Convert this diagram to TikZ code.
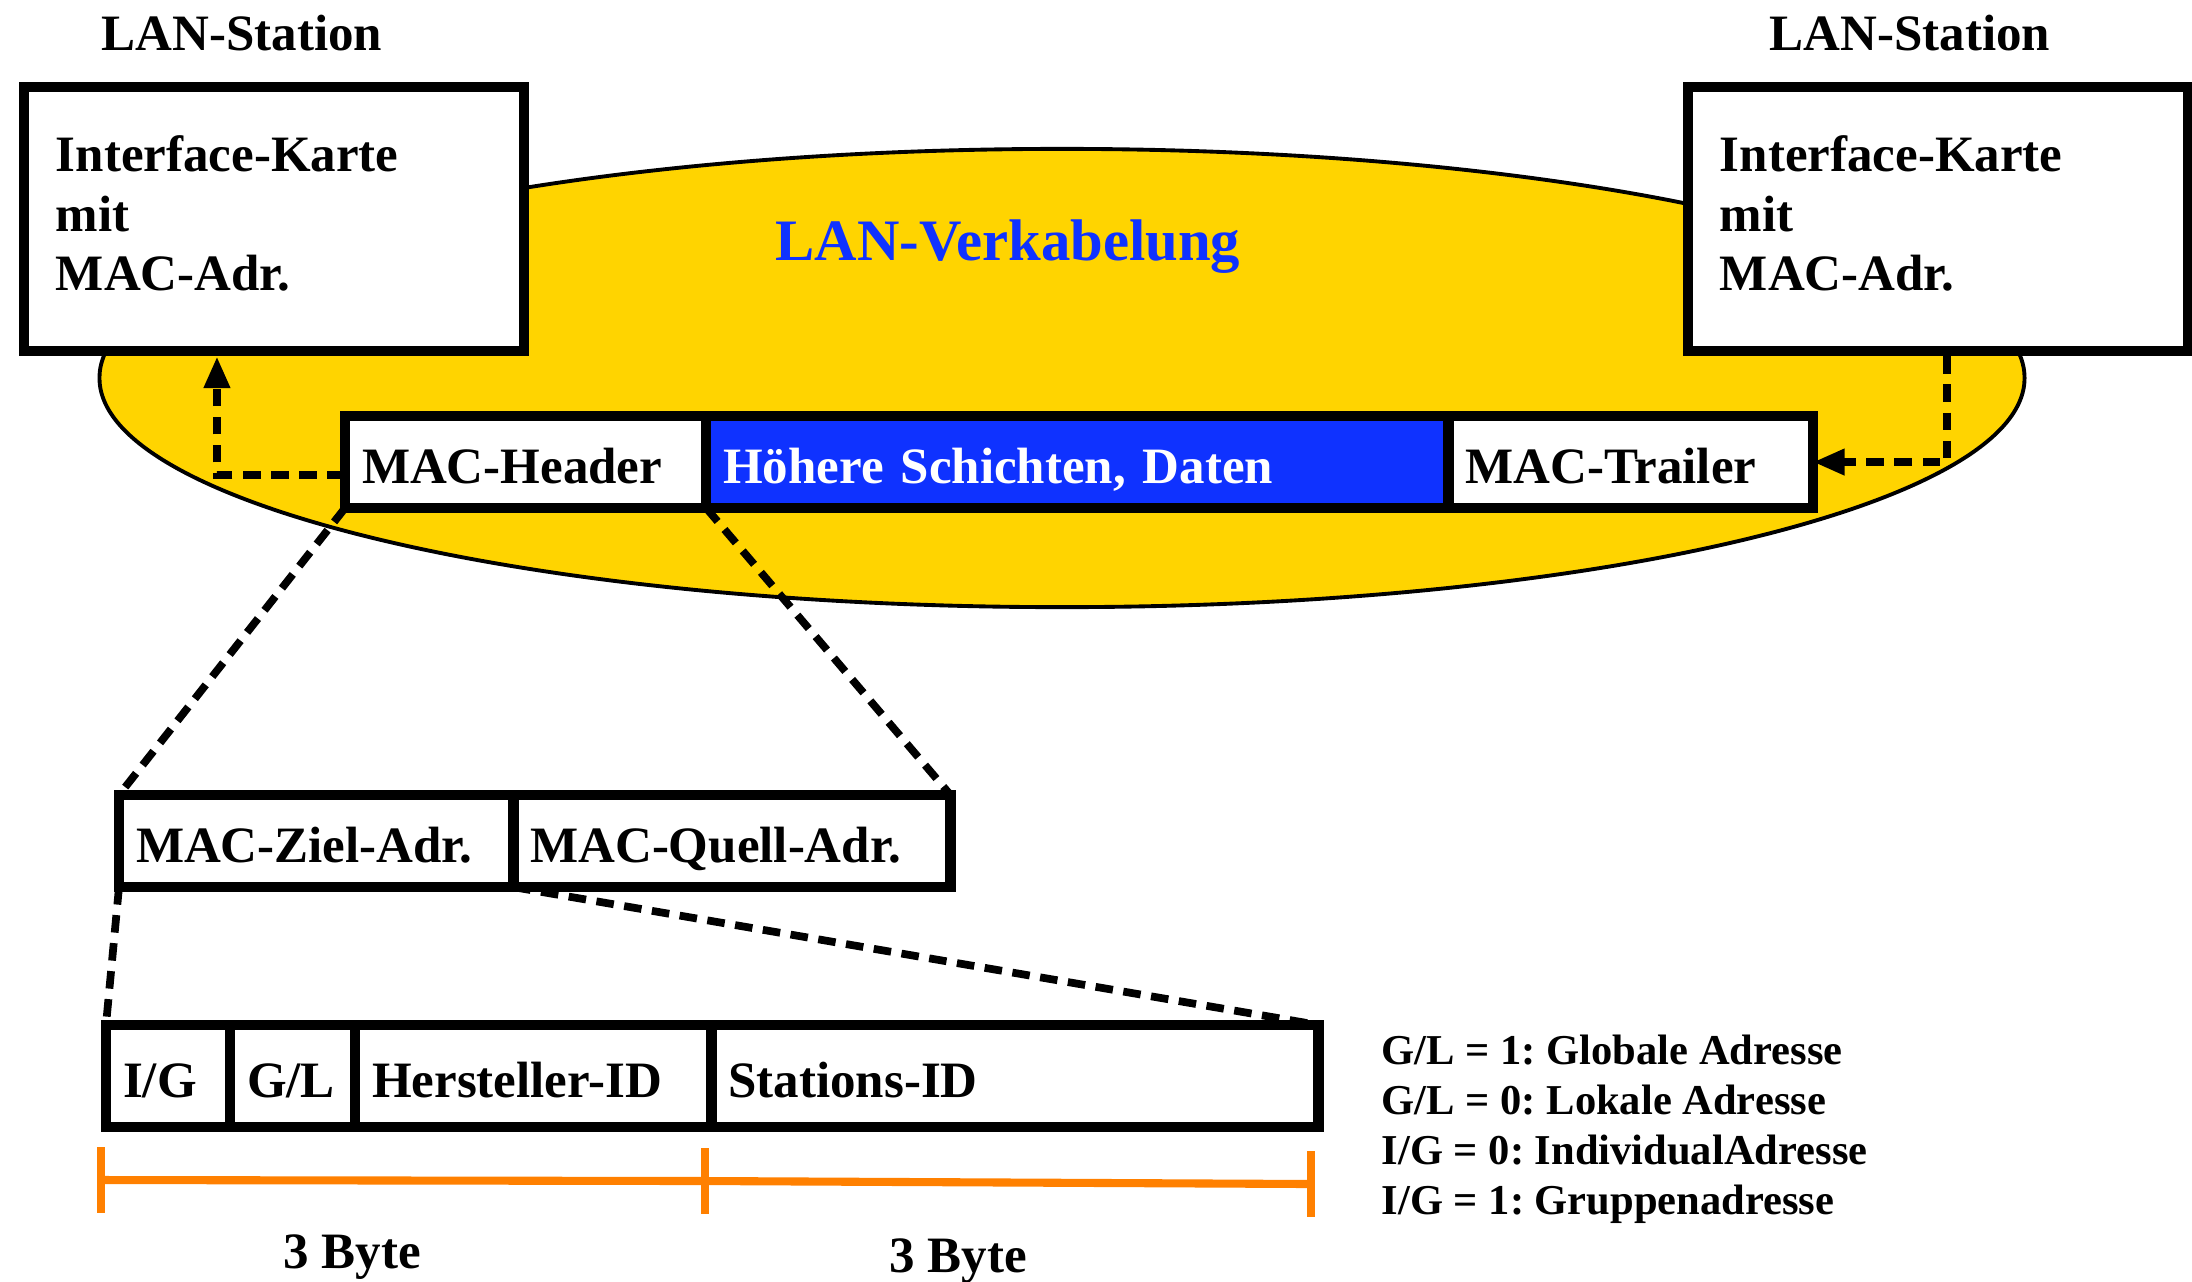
\documentclass[tikz,border=0pt]{standalone}
\usepackage{fontspec}
\setmainfont{Liberation Serif}
\frenchspacing
\usetikzlibrary{arrows.meta,positioning,shapes.geometric}
\definecolor{cablegold}{RGB}{255,212,0}
\definecolor{layerblue}{RGB}{15,50,255}
\definecolor{byteorange}{RGB}{255,128,0}

\begin{document}
\begin{tikzpicture}[x=0.01cm,y=-0.01cm,
 every node/.style={font=\bfseries\fontsize{14.5}{17}\selectfont},
 card/.style={draw,line width=3pt,fill=white,align=left,text width=4.36cm,
              inner xsep=0.32cm,minimum height=2.64cm,text height=0.25cm},
 cell/.style={draw,line width=3pt,fill=white,align=left,outer sep=0pt,
              inner xsep=0.17cm,text height=0.5cm,text depth=0.08cm,
              minimum height=0.92cm},
 link/.style={-{Triangle[length=9pt,width=7pt]},line width=2.2pt,
              dash pattern=on 5pt off 3pt},
 zoomline/.style={line width=2.2pt,dash pattern=on 5pt off 3pt},
 brace/.style={draw=byteorange,line width=2.3pt}]
 \useasboundingbox (0,0) rectangle (2192,1281);
 % cabling
 \node (cabling) [ellipse,draw,line width=1.1pt,fill=cablegold,
       minimum width=19.24cm,minimum height=4.58cm] at (1062,378) {};
 \node (cablelabel) [anchor=base,text=layerblue,
       font=\bfseries\fontsize{16.7}{20}\selectfont] at (1008,260) {LAN-Verkabelung};
 % stations
 \node (lstation) [anchor=base] at (242,50) {LAN-Station};
 \node (rstation) [anchor=base] at (1910,50) {LAN-Station};
 \node (lcard) [card] at (274,219) {Interface-Karte\\mit\\MAC-Adr.};
 \node (rcard) [card] at (1938,219) {Interface-Karte\\mit\\MAC-Adr.};
 % frame
 \node (header) [cell,anchor=north west,text width=3.27cm] at (345,416) {MAC-Header};
 \node (data) [cell,right=0pt of header,fill=layerblue,text=white,
       text width=7.08cm] {Höhere Schichten, Daten};
 \node (trailer) [cell,right=0pt of data,text width=3.30cm] {MAC-Trailer};
 % addresses
 \node (ziel) [cell,anchor=north west,text width=3.60cm] at (119,795) {MAC-Ziel-Adr.};
 \node (quell) [cell,right=0pt of ziel,text width=4.03cm] {MAC-Quell-Adr.};
 % address fields
 \node (ig) [cell,anchor=north west,minimum height=1.02cm,text width=0.90cm]
       at (106,1025) {I/G};
 \node (gl) [cell,right=0pt of ig,minimum height=1.02cm,text width=0.91cm] {G/L};
 \node (maker) [cell,right=0pt of gl,minimum height=1.02cm,
       text width=3.22cm] {Hersteller-ID};
 \node (stationid) [cell,right=0pt of maker,minimum height=1.02cm,
       text width=5.73cm] {Stations-ID};
 % connectors
 \draw[link] ([yshift=-0.13cm]header.west) -| ([xshift=-0.57cm]lcard.south);
 \draw[link] ([xshift=0.09cm]rcard.south) |- (trailer.east);
 \draw[zoomline] (header.south west) -- (ziel.north west);
 \draw[zoomline] (header.south east) -- (quell.north east);
 \draw[zoomline] (ziel.south west) -- (ig.north west);
 \draw[zoomline] (ziel.south east) -- (stationid.north east);
 % byte marks
 \coordinate (m0) at (101,1180);
 \coordinate (m1) at (705,1181);
 \coordinate (m2) at (1311,1184);
 \draw[brace] (m0) -- (m1) -- (m2);
 \foreach \m in {m0,m1,m2}
   \draw[brace] ([yshift=0.33cm]\m) -- ([yshift=-0.33cm]\m);
 \node (byteA) [anchor=base] at (352,1268) {3 Byte};
 \node (byteB) [anchor=base] at (958,1272) {3 Byte};
 % legend
 \node (legend) [anchor=north west,align=left,inner sep=0pt,
       font=\bfseries\fontsize{12.1}{14.2}\selectfont] at (1381,1034)
       {G/L = 1: Globale Adresse\\G/L = 0: Lokale Adresse\\
        I/G = 0: IndividualAdresse\\I/G = 1: Gruppenadresse};
\end{tikzpicture}
\end{document}
